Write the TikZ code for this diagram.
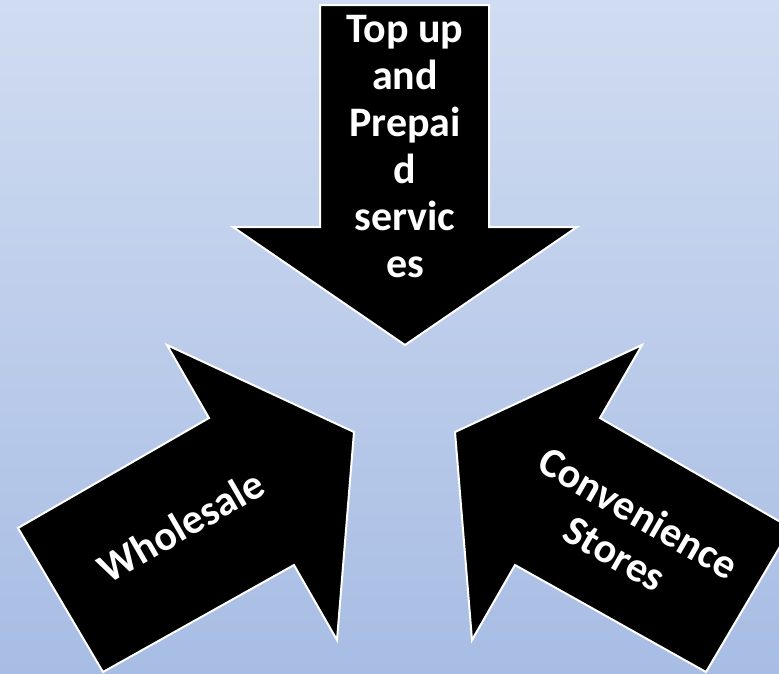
\documentclass[tikz,border=0pt]{standalone}
\usepackage{fontspec}
\setmainfont{Carlito}
\begin{document}
\begin{tikzpicture}[x=1pt,y=-1pt,
  arrowshape/.style={fill=black,draw=white,line width=2pt,line join=miter},
  lbl/.style={text=white,font=\fontsize{42}{47}\selectfont\bfseries,align=center,inner sep=0pt}]
\useasboundingbox (0,0) rectangle (779,673);
\clip (0,0) rectangle (779,673);
\shade[top color={rgb,255:red,208;green,220;blue,241},bottom color={rgb,255:red,168;green,189;blue,228}] (0,0) rectangle (779,673);
% top arrow
\draw[arrowshape] (320,5) -- (489,5) -- (489,227) -- (577,227) -- (405,345) -- (233,227) -- (320,227) -- cycle;
% left arrow
\draw[arrowshape] (18,528) -- (209,418) -- (167,345) -- (354,432) -- (337,640) -- (294,565) -- (103,672) -- cycle;
% right arrow
\draw[arrowshape] (791,528) -- (600,418) -- (642,345) -- (455,432) -- (472,640) -- (515,565) -- (706,672) -- cycle;
\node[lbl] (top) at (405,147) {Top up\\and\\Prepai\\d\\servic\\es};
\node[lbl,rotate=30] (wh) at (181,526) {Wholesale};
\node[lbl,rotate=-30] (cs) at (627,533) {Convenience\\Stores};
\end{tikzpicture}
\end{document}
